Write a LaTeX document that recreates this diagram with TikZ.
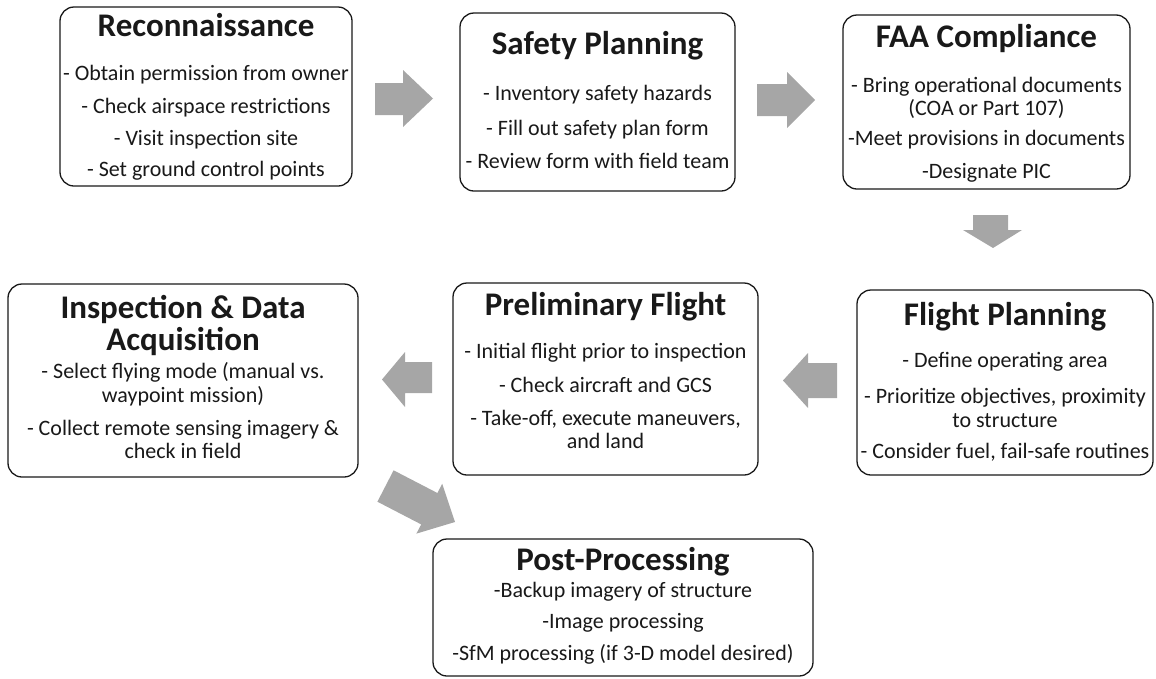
\documentclass[tikz,border=0pt]{standalone}
\usepackage{fontspec}
\setmainfont{Carlito}
\definecolor{arrowgray}{RGB}{166,166,166}
\definecolor{ink}{RGB}{25,25,25}
\begin{document}
\begin{tikzpicture}[x=1pt,y=-1pt,
  box/.style={draw=ink, line width=1.3pt, rounded corners=14pt, inner sep=0pt, outer sep=0pt, fill=white},
  ttl/.style={anchor=base, inner sep=0pt, text=ink, font=\fontsize{33}{33}\selectfont\bfseries},
  txt/.style={anchor=base, inner sep=0pt, text=ink, font=\fontsize{22}{22}\selectfont},
  blockarrow/.style={fill=arrowgray, draw=none}]
\useasboundingbox (0,0) rectangle (1156,678);

% boxes
\node[box, minimum width=292pt, minimum height=179pt] (b1) at (206,96.5) {};
\node[box, minimum width=275pt, minimum height=178pt] (b2) at (597.5,102) {};
\node[box, minimum width=287pt, minimum height=174pt] (b3) at (986.5,102) {};
\node[box, minimum width=350pt, minimum height=193pt] (b4) at (183,380.5) {};
\node[box, minimum width=305pt, minimum height=192pt] (b5) at (605.5,379) {};
\node[box, minimum width=296pt, minimum height=185pt] (b6) at (1005,382.5) {};
\node[box, minimum width=380pt, minimum height=137pt] (b7) at (623,607.5) {};

% Reconnaissance
\node[ttl] (t1) at (206,36) {Reconnaissance};
\node[txt] (t1a) at (206,80) {- Obtain permission from owner};
\node[txt] (t1b) at (206,113) {- Check airspace restrictions};
\node[txt] (t1c) at (206,145) {- Visit inspection site};
\node[txt] (t1d) at (206,176) {- Set ground control points};

% Safety Planning
\node[ttl] (t2) at (597.5,54) {Safety Planning};
\node[txt] (t2a) at (597.5,100) {- Inventory safety hazards};
\node[txt] (t2b) at (597.5,135) {- Fill out safety plan form};
\node[txt] (t2c) at (597.5,168) {- Review form with field team};

% FAA Compliance
\node[ttl] (t3) at (986.5,47) {FAA Compliance};
\node[txt] (t3a) at (986.5,92) {- Bring operational documents};
\node[txt] (t3b) at (986.5,115) {(COA or Part 107)};
\node[txt] (t3c) at (986.5,145) {-Meet provisions in documents};
\node[txt] (t3d) at (986.5,178) {-Designate PIC};

% Inspection & Data Acquisition
\node[ttl] (t4) at (183,318) {Inspection \& Data};
\node[ttl] (t4b) at (183,350) {Acquisition};
\node[txt] (t4c) at (183,378) {- Select flying mode (manual vs.};
\node[txt] (t4d) at (183,402) {waypoint mission)};
\node[txt] (t4e) at (183,435) {- Collect remote sensing imagery \&};
\node[txt] (t4f) at (183,458) {check in field};

% Preliminary Flight
\node[ttl] (t5) at (605.5,315) {Preliminary Flight};
\node[txt] (t5a) at (605.5,358) {- Initial flight prior to inspection};
\node[txt] (t5b) at (605.5,392) {- Check aircraft and GCS};
\node[txt] (t5c) at (605.5,425) {- Take-off, execute maneuvers,};
\node[txt] (t5d) at (605.5,448) {and land};

% Flight Planning
\node[ttl] (t6) at (1005,325) {Flight Planning};
\node[txt] (t6a) at (1005,367) {- Define operating area};
\node[txt] (t6b) at (1005,403) {- Prioritize objectives, proximity};
\node[txt] (t6c) at (1005,427) {to structure};
\node[txt] (t6d) at (1005,458) {- Consider fuel, fail-safe routines};

% Post-Processing
\node[ttl] (t7) at (623,570) {Post-Processing};
\node[txt] (t7a) at (623,597) {-Backup imagery of structure};
\node[txt] (t7b) at (623,628) {-Image processing};
\node[txt] (t7c) at (623,660) {-SfM processing (if 3-D model desired)};

% block arrows
\fill[blockarrow] (375,83) -- (403,83) -- (403,70) -- (433,98.5) -- (403,127) -- (403,115) -- (375,115) -- cycle;
\fill[blockarrow] (757,84) -- (787,84) -- (787,72) -- (815,100) -- (787,128) -- (787,116) -- (757,116) -- cycle;
\fill[blockarrow] (973,215) -- (1008,215) -- (1008,230) -- (1022,230) -- (993,248) -- (963,230) -- (973,230) -- cycle;
\fill[blockarrow] (837,363) -- (808,363) -- (808,353) -- (783,380.5) -- (808,408) -- (808,398) -- (837,398) -- cycle;
\fill[blockarrow] (432,362) -- (405,362) -- (405,352) -- (382,379.5) -- (405,407) -- (405,393) -- (432,393) -- cycle;
\fill[blockarrow] (393.6,470.3) -- (437.4,493) -- (442.2,483.8) -- (455,522) -- (416.4,533.6) -- (421.2,524.4) -- (377.4,501.7) -- cycle;
\end{tikzpicture}
\end{document}
